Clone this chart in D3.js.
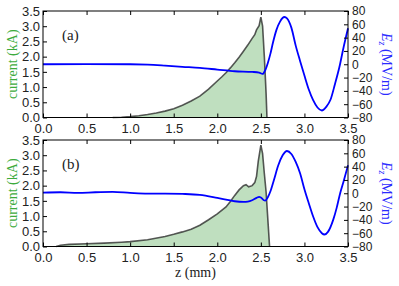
<!DOCTYPE html>
<html>
<head>
<meta charset="utf-8">
<script src="https://cdn.jsdelivr.net/npm/d3@7"></script>
<style>
  body { margin: 0; background: #fff; }
  svg { display: block; font-family: "Liberation Serif", serif; }
</style>
</head>
<body>
<svg id="chart"></svg>
<script>
// ticks
const zTicks = [0, 0.5, 1, 1.5, 2, 2.5, 3, 3.5];
const currentTicks = [0, 0.5, 1, 1.5, 2, 2.5, 3, 3.5];
const fieldTicks = [-80, -60, -40, -20, 0, 20, 40, 60, 80];

// panel (a): current (kA) vs z (mm)
const zCurA = [0.8, 0.9, 1.0, 1.1, 1.2, 1.3, 1.4, 1.5, 1.6, 1.7, 1.8, 1.9, 2.0, 2.05, 2.1, 2.15, 2.2, 2.25, 2.3, 2.35, 2.4, 2.43, 2.45, 2.48, 2.5, 2.52, 2.54, 2.56, 2.57];
const curA  = [0.0, 0.01, 0.03, 0.06, 0.1, 0.15, 0.21, 0.29, 0.4, 0.54, 0.7, 0.93, 1.2, 1.33, 1.47, 1.63, 1.8, 1.98, 2.18, 2.38, 2.6, 2.72, 2.88, 3.02, 3.3, 3.0, 2.0, 0.8, 0.0];
// panel (a): Ez (MV/m)
const zEA = [0, 0.5, 1.0, 1.2, 1.4, 1.6, 1.8, 2.0, 2.2, 2.4, 2.48, 2.52, 2.55, 2.58, 2.61, 2.64, 2.68, 2.72, 2.77, 2.8, 2.85, 2.9, 2.95, 3.0, 3.05, 3.1, 3.15, 3.2, 3.25, 3.3, 3.35, 3.4, 3.45, 3.5];
const eA  = [0, 0.2, 0, -0.5, -2, -3.8, -5.5, -8, -10.5, -11.5, -12.5, -14.5, -9, 2, 16, 33, 52, 64, 71, 69, 55, 28, 5, -17, -38, -54, -65, -69.5, -64, -53, -30, -5, 26, 54];

// panel (b): current (kA)
const zCurB = [0.15, 0.2, 0.3, 0.5, 0.7, 0.9, 1.0, 1.2, 1.4, 1.5, 1.6, 1.7, 1.8, 1.9, 2.0, 2.1, 2.15, 2.2, 2.25, 2.3, 2.33, 2.36, 2.4, 2.43, 2.45, 2.47, 2.5, 2.52, 2.54, 2.56, 2.58, 2.6];
const curB  = [0.0, 0.04, 0.07, 0.09, 0.11, 0.14, 0.16, 0.22, 0.33, 0.4, 0.48, 0.57, 0.7, 0.88, 1.07, 1.3, 1.48, 1.68, 1.86, 2.0, 2.03, 1.96, 2.0, 2.1, 2.3, 2.8, 3.33, 3.05, 2.4, 1.8, 0.9, 0.0];
// panel (b): Ez (MV/m)
const zEB = [0, 0.2, 0.4, 0.6, 0.8, 1.0, 1.2, 1.4, 1.6, 1.8, 2.0, 2.1, 2.2, 2.3, 2.35, 2.4, 2.45, 2.48, 2.5, 2.53, 2.55, 2.58, 2.61, 2.65, 2.7, 2.75, 2.8, 2.85, 2.9, 2.95, 3.0, 3.05, 3.1, 3.15, 3.2, 3.23, 3.27, 3.33, 3.37, 3.41, 3.45, 3.5];
const eB  = [1, 1.5, 0.5, 1.5, 2, 0.5, -0.5, -0.5, -1, -2.5, -7, -9.5, -12, -13, -12.5, -10.5, -7, -5.5, -6.5, -10, -11, -6, 3, 20, 42, 57, 63.5, 59, 47, 30, 6, -15, -35, -51, -60, -62, -58, -40, -22, 0, 18, 42];

const width = 399;
const height = 286;
const left = 43, right = 348;

const svg = d3.select("#chart")
  .attr("width", width)
  .attr("height", height);

const x = d3.scaleLinear().domain([0, 3.5]).range([left, right]);

const panels = [
  { top: 11, bottom: 117.5, label: "(a)", zc: zCurA, c: curA, ze: zEA, e: eA },
  { top: 140, bottom: 246.5, label: "(b)", zc: zCurB, c: curB, ze: zEB, e: eB }
];

panels.forEach(p => {
  const yc = d3.scaleLinear().domain([0, 3.5]).range([p.bottom, p.top]);
  const ye = d3.scaleLinear().domain([-80, 80]).range([p.bottom, p.top]);
  const g = svg.append("g");

  const pts = p.zc.map((z, i) => [z, p.c[i]]);

  // current fill + line
  g.append("path")
    .datum(pts)
    .attr("d", d3.area().x(d => x(d[0])).y0(yc(0)).y1(d => yc(d[1])))
    .attr("fill", "rgba(0,128,0,0.25)");

  g.append("path")
    .datum(pts)
    .attr("d", d3.line().x(d => x(d[0])).y(d => yc(d[1])))
    .attr("fill", "none")
    .attr("stroke", "#222")
    .attr("stroke-opacity", 0.75)
    .attr("stroke-width", 1.6);

  // Ez line
  g.append("path")
    .datum(p.ze.map((z, i) => [z, p.e[i]]))
    .attr("d", d3.line().curve(d3.curveMonotoneX).x(d => x(d[0])).y(d => ye(d[1])))
    .attr("fill", "none")
    .attr("stroke", "#0000ff")
    .attr("stroke-width", 1.8);

  // axes, ticks inward
  const tickStyle = size => a => a.selectAll("text").attr("fill", "#222").style("font-size", size);

  g.append("g")
    .attr("transform", `translate(0,${p.bottom})`)
    .call(d3.axisBottom(x).tickValues(zTicks).tickFormat(d3.format(".1f")).tickSizeInner(-4).tickSizeOuter(0).tickPadding(6))
    .call(a => a.select(".domain").remove())
    .call(tickStyle("13px"));

  g.append("g")
    .attr("transform", `translate(0,${p.top})`)
    .call(d3.axisTop(x).tickValues(zTicks).tickFormat("").tickSizeInner(-4).tickSizeOuter(0))
    .call(a => a.select(".domain").remove());

  g.append("g")
    .attr("transform", `translate(${left},0)`)
    .call(d3.axisLeft(yc).tickValues(currentTicks).tickFormat(d3.format(".1f")).tickSizeInner(-4).tickSizeOuter(0).tickPadding(3))
    .call(a => a.select(".domain").remove())
    .call(tickStyle("13px"));

  g.append("g")
    .attr("transform", `translate(${right},0)`)
    .call(d3.axisRight(ye).tickValues(fieldTicks).tickFormat(d => d < 0 ? "\u2212" + (-d) : d).tickSizeInner(-4).tickSizeOuter(0).tickPadding(4))
    .call(a => a.select(".domain").remove())
    .call(tickStyle("12px"));

  g.append("rect")
    .attr("x", left).attr("y", p.top)
    .attr("width", right - left).attr("height", p.bottom - p.top)
    .attr("fill", "none").attr("stroke", "#000").attr("stroke-width", 1);

  g.append("text")
    .attr("x", 62).attr("y", p.top + 29)
    .style("font-size", "15px").attr("fill", "#222")
    .text(p.label);

  const mid = (p.top + p.bottom) / 2;
  g.append("text")
    .attr("transform", `translate(17,${mid}) rotate(-90)`)
    .attr("text-anchor", "middle")
    .style("font-size", "14px").attr("fill", "#3cab3c")
    .text("current (kA)");

  const rl = g.append("text")
    .attr("transform", `translate(382,${mid}) rotate(90)`)
    .attr("text-anchor", "middle")
    .style("font-size", "14px").attr("fill", "#2a2aff");
  rl.append("tspan").style("font-style", "italic").text("E");
  rl.append("tspan").style("font-style", "italic").style("font-size", "10px").attr("dy", 3).text("z");
  rl.append("tspan").attr("dy", -3).text(" (MV/m)");
});

svg.append("text")
  .attr("x", (left + right) / 2).attr("y", 277)
  .attr("text-anchor", "middle")
  .style("font-size", "14px").attr("fill", "#222")
  .text("z (mm)");
</script>
</body>
</html>
